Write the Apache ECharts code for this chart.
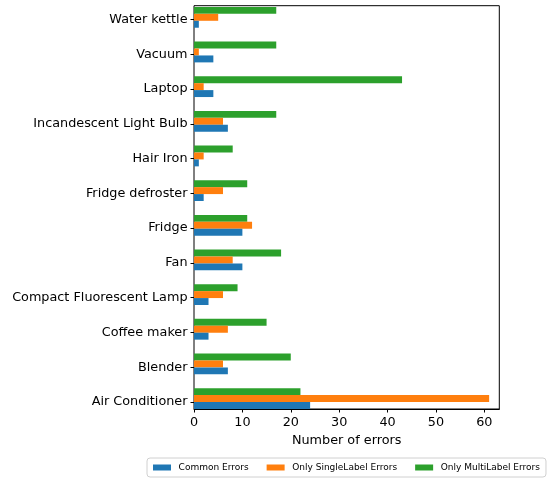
<!DOCTYPE html>
<html>
<head>
<meta charset="utf-8">
<script src="https://cdn.jsdelivr.net/npm/echarts@6/dist/echarts.min.js"></script>
<style>
html,body{margin:0;padding:0;background:#fff;}
#chart{width:548px;height:478px;}
</style>
</head>
<body>
<div id="chart"></div>
<script>
// Categories listed bottom to top
const categories = ["Air Conditioner","Blender","Coffee maker","Compact Fluorescent Lamp","Fan","Fridge","Fridge defroster","Hair Iron","Incandescent Light Bulb","Laptop","Vacuum","Water kettle"];
const commonErrors      = [24, 7, 3, 3, 10, 10, 2, 1, 7, 4, 4, 1];
const singleLabelErrors = [61, 6, 7, 6, 8, 12, 6, 2, 6, 2, 1, 5];
const multiLabelErrors  = [22, 20, 15, 9, 18, 11, 11, 8, 17, 43, 17, 17];
const seriesNames = ["Common Errors","Only SingleLabel Errors","Only MultiLabel Errors"];
const xTicks = {min: 0, max: 63.1, interval: 10};

const FONT = 'DejaVu Sans';
const colors = ['#1f77b4','#ff7f0e','#2ca02c'];
const chart = echarts.init(document.getElementById('chart'), null, {renderer:'canvas'});

const G = {left:194, right:48.7};
const bandTop = -1.3, bandH = 417.2;

const option = {
  animation:false,
  textStyle:{fontFamily:FONT},
  grid:[
    {left:G.left, right:G.right, top:5.7, bottom:69, show:true, borderColor:'#000', borderWidth:1, backgroundColor:'transparent'},
    {left:G.left, right:G.right, top:bandTop, height:bandH},
    {left:G.left, right:G.right, top:bandTop+3.48, height:bandH}
  ],
  xAxis:[
    {gridIndex:0, type:'value', min:xTicks.min, max:xTicks.max, interval:xTicks.interval,
     splitLine:{show:false},
     axisLine:{show:true, lineStyle:{color:'#000', width:1}},
     axisTick:{show:true, length:3.5, lineStyle:{color:'#000'}},
     axisLabel:{fontSize:12.8, color:'#000', margin:7.5, fontFamily:FONT, showMaxLabel:false},
     name:'Number of errors', nameLocation:'middle', nameGap:21,
     nameTextStyle:{fontSize:12.8, color:'#000', fontFamily:FONT}},
    {gridIndex:1, type:'value', min:xTicks.min, max:xTicks.max, show:false},
    {gridIndex:2, type:'value', min:xTicks.min, max:xTicks.max, show:false}
  ],
  yAxis:[
    {gridIndex:0, type:'value', show:false},
    {gridIndex:1, type:'category', data:categories, show:false},
    {gridIndex:2, type:'category', data:categories,
     axisLine:{show:false},
     axisTick:{show:true, alignWithLabel:true, length:3.5, lineStyle:{color:'#000'}},
     axisLabel:{fontSize:12.8, color:'#000', margin:6.5, fontFamily:FONT, padding:[2,0,0,0]}}
  ],
  legend:{
    data:seriesNames, left:147, top:458, orient:'horizontal',
    icon:'rect', itemWidth:18, itemHeight:6, itemGap:18,
    padding:[5,6], borderColor:'#d0d0d0', borderWidth:1, borderRadius:3,
    textStyle:{fontSize:9, color:'#000', fontFamily:FONT, padding:[0,0,0,2.6]}
  },
  series:[
    {name:seriesNames[2], type:'bar', xAxisIndex:1, yAxisIndex:1, data:multiLabelErrors, barWidth:'20%', barGap:'0%', itemStyle:{color:colors[2]}},
    {name:seriesNames[1], type:'bar', xAxisIndex:1, yAxisIndex:1, data:singleLabelErrors, barWidth:'20%', barGap:'0%', itemStyle:{color:colors[1]}},
    {name:seriesNames[0], type:'bar', xAxisIndex:1, yAxisIndex:1, data:commonErrors, barWidth:'20%', barGap:'0%', itemStyle:{color:colors[0]}}
  ]
};
chart.setOption(option);
</script>
</body>
</html>
